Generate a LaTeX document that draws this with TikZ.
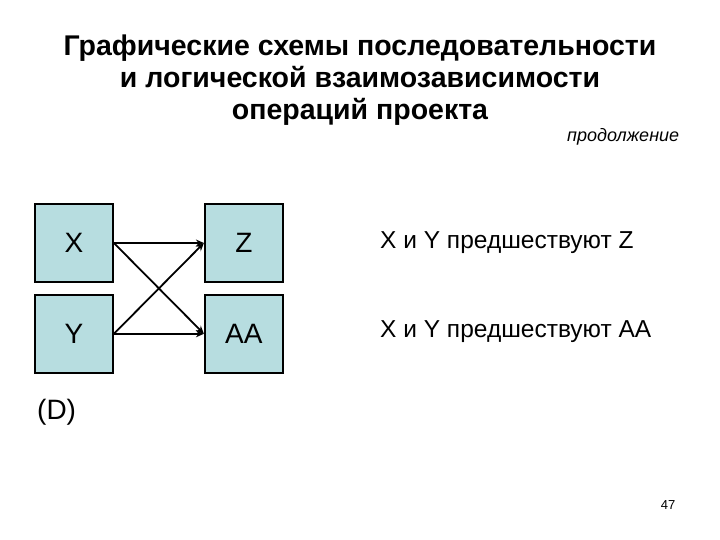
\documentclass[tikz,border=0pt]{standalone}
\usepackage{fontspec}
\setmainfont{Liberation Sans}
\usetikzlibrary{positioning, arrows.meta}
\definecolor{boxCyan}{HTML}{B7DDE0}
\tikzset{
  opbox/.style = {draw=black, line width=1.8pt, fill=boxCyan, minimum width=78pt,
                  minimum height=78pt, inner sep=0pt, font=\fontsize{28}{32}\selectfont},
  fl/.style    = {-{Stealth[length=8pt, width=7pt]}, draw=black, line width=1.8pt},
  note/.style  = {anchor=west, inner sep=0pt, font=\fontsize{24.5}{28}\selectfont}
}
\begin{document}
\begin{tikzpicture}[x=1pt, y=-1pt]
  \useasboundingbox (0,0) rectangle (720,540);
  \node[align=center, font=\bfseries\fontsize{28.5}{32}\selectfont] (title) at (360,80)
    {Графические схемы последовательности\\ и логической взаимозависимости\\ операций проекта};
  \node[font=\itshape\fontsize{18}{20}\selectfont, anchor=west, inner sep=0pt] (cont) at (567,137) {продолжение};
  \node[opbox] (x) at (74,243) {X};
  \node[opbox, below=11pt of x] (y) {Y};
  \node[opbox, right=90pt of x] (z) {Z};
  \node[opbox, right=90pt of y] (aa) {AA};
  \foreach \a/\b in {x/z, x/aa, y/z, y/aa} \draw[fl] (\a.east) -- (\b.west);
  \node[note] (nz) at (380,243) {X и Y предшествуют Z};
  \node[note] (naa) at (380,332) {X и Y предшествуют AA};
  \node[note, font=\fontsize{28}{32}\selectfont] (d) at (37,412) {(D)};
  \node[font=\fontsize{13}{15}\selectfont] (page) at (668,505) {47};
\end{tikzpicture}
\end{document}
